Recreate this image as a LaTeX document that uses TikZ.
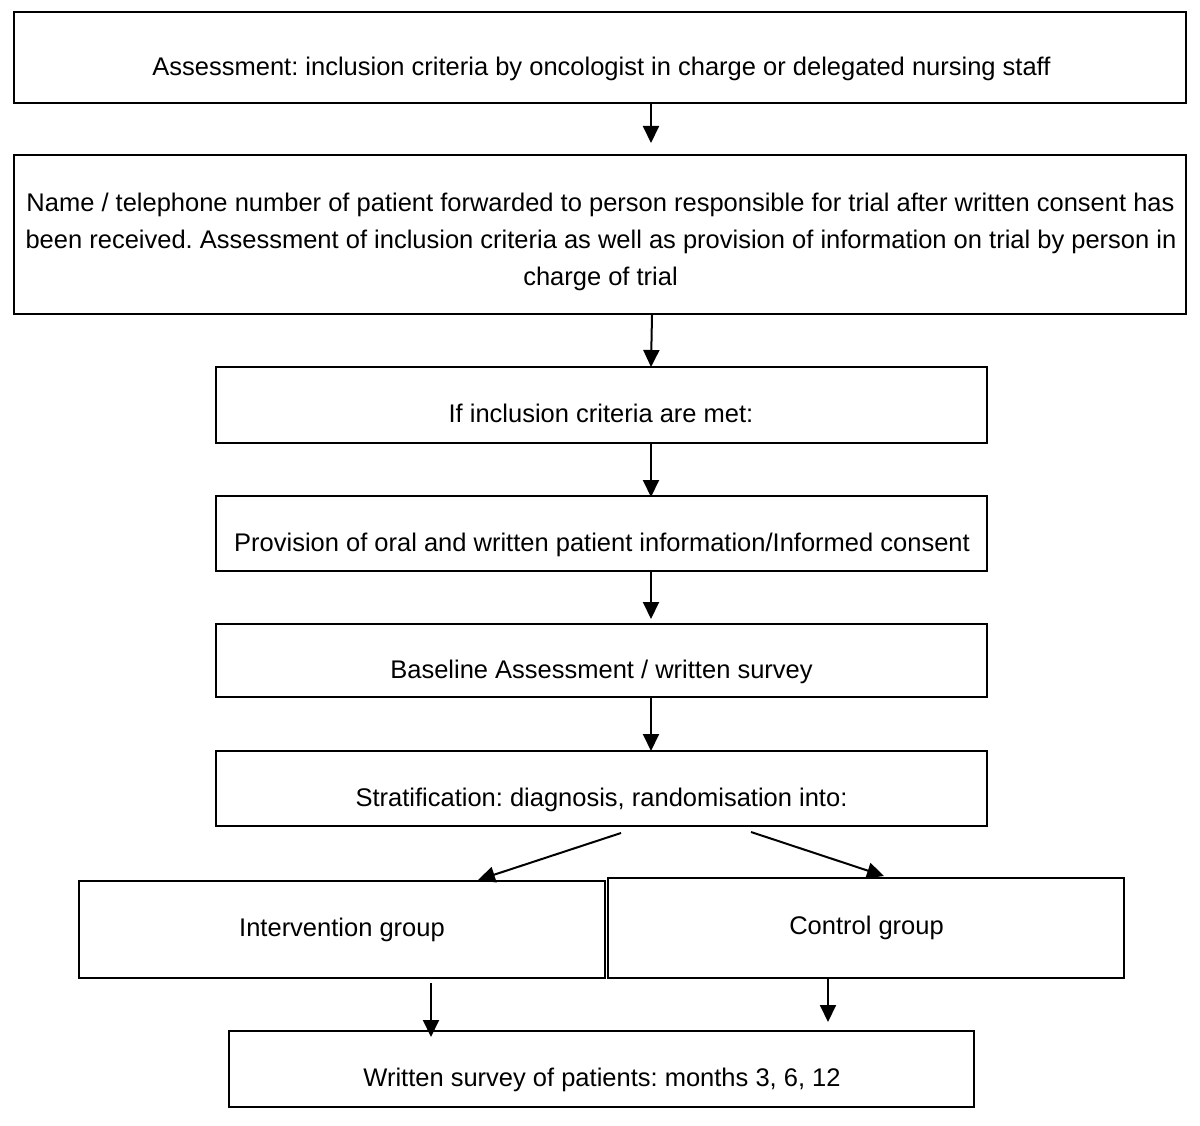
\documentclass[tikz,border=0pt]{standalone}
\usepackage{fontspec}
\setmainfont{Liberation Sans}
\usetikzlibrary{arrows.meta}
\frenchspacing
\begin{document}
\begin{tikzpicture}[x=1pt,y=-1pt,
  box/.style={draw=black,line width=2pt,fill=none},
  lbl/.style={anchor=base,inner sep=0pt,font=\fontsize{25.5}{37}\selectfont\frenchspacing,align=center},
  arr/.style={line width=2pt,-{Triangle[length=17pt,width=16pt]}}]
\useasboundingbox (0,0) rectangle (1200,1126);
% boxes
\node[box,inner sep=0pt,minimum width=1172pt,minimum height=91pt] (b1) at (600,57.5) {};
\node[box,inner sep=0pt,minimum width=1172pt,minimum height=159pt] (b2) at (600,234.5) {};
\node[box,inner sep=0pt,minimum width=771pt,minimum height=76pt] (b3) at (601.5,405) {};
\node[box,inner sep=0pt,minimum width=771pt,minimum height=75pt] (b4) at (601.5,533.5) {};
\node[box,inner sep=0pt,minimum width=771pt,minimum height=73pt] (b5) at (601.5,660.5) {};
\node[box,inner sep=0pt,minimum width=771pt,minimum height=75pt] (b6) at (601.5,788.5) {};
\node[box,inner sep=0pt,minimum width=526pt,minimum height=97pt] (b7) at (342,929.5) {};
\node[box,inner sep=0pt,minimum width=516pt,minimum height=100pt] (b8) at (866,928) {};
\node[box,inner sep=0pt,minimum width=745pt,minimum height=76pt] (b9) at (601.5,1069) {};
% texts
\node[lbl] (t1) at (601.5,76) {Assessment: inclusion criteria by oncologist in charge or delegated nursing staff};
\node[lbl] (t2a) at (600.5,212) {Name / telephone number of patient forwarded to person responsible for trial after written consent has};
\node[lbl] (t2b) at (601,249) {been received. Assessment of inclusion criteria as well as provision of information on trial by person in};
\node[lbl] (t2c) at (600.5,286) {charge of trial};
\node[lbl] (t3) at (601,422) {If inclusion criteria are met:};
\node[lbl] (t4) at (602,551) {Provision of oral and written patient information/Informed consent};
\node[lbl] (t5) at (601.5,678) {Baseline Assessment / written survey};
\node[lbl] (t6) at (601.5,806) {Stratification: diagnosis, randomisation into:};
\node[lbl] (t7) at (342,936) {Intervention group};
\node[lbl] (t8) at (866.5,934) {Control group};
\node[lbl] (t9) at (602,1086) {Written survey of patients: months 3, 6, 12};
% arrow endpoints
\coordinate (a1s) at (651,103); \coordinate (a1e) at (651,143);
\coordinate (a2s) at (652,315); \coordinate (a2e) at (651,367);
\coordinate (a3s) at (651,443); \coordinate (a3e) at (651,497);
\coordinate (a4s) at (651,571); \coordinate (a4e) at (651,619);
\coordinate (a5s) at (651,697); \coordinate (a5e) at (651,751);
\coordinate (a6s) at (621,833); \coordinate (a6e) at (478,880);
\coordinate (a7s) at (751,832); \coordinate (a7e) at (884,876);
\coordinate (a8s) at (431,983); \coordinate (a8e) at (431,1037);
\coordinate (a9s) at (828,978); \coordinate (a9e) at (828,1022);
\draw[arr] (a1s) -- (a1e);
\draw[arr] (a2s) -- (a2e);
\draw[arr] (a3s) -- (a3e);
\draw[arr] (a4s) -- (a4e);
\draw[arr] (a5s) -- (a5e);
\draw[arr] (a6s) -- (a6e);
\draw[arr] (a7s) -- (a7e);
\draw[arr] (a8s) -- (a8e);
\draw[arr] (a9s) -- (a9e);
\end{tikzpicture}
\end{document}
